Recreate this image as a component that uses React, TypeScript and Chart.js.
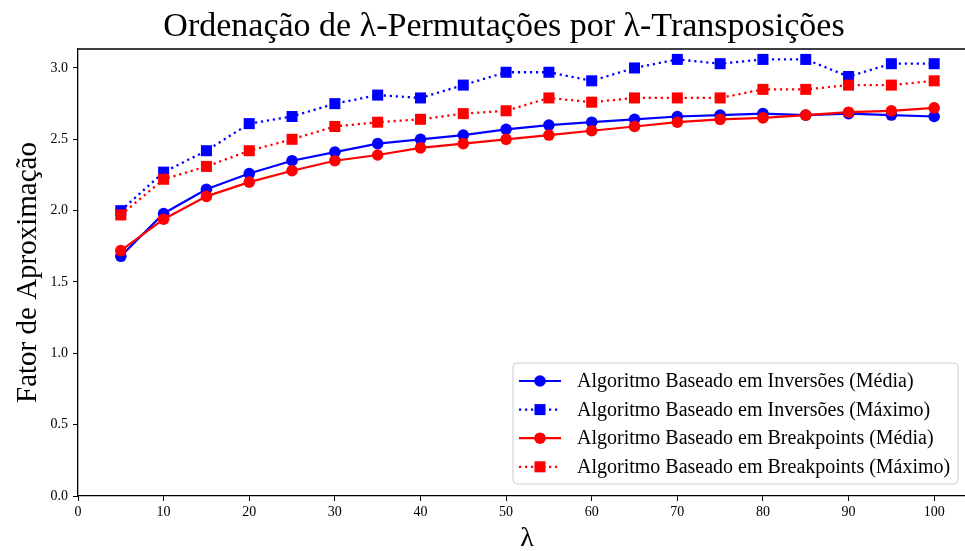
import React, { useEffect, useRef } from "react";
import { Chart, registerables } from "chart.js";

Chart.register(...registerables);

// λ values on the horizontal axis
const lambdas = [5, 10, 15, 20, 25, 30, 35, 40, 45, 50, 55, 60, 65, 70, 75, 80, 85, 90, 95, 100];

// approximation factors per algorithm
const inversoesMedia = [1.68, 1.98, 2.15, 2.26, 2.35, 2.41, 2.47, 2.5, 2.53, 2.57, 2.6, 2.62, 2.64, 2.66, 2.67, 2.68, 2.67, 2.68, 2.67, 2.66];
const inversoesMaximo = [2.0, 2.27, 2.42, 2.61, 2.66, 2.75, 2.81, 2.79, 2.88, 2.97, 2.97, 2.91, 3.0, 3.06, 3.03, 3.06, 3.06, 2.94, 3.03, 3.03];
const breakpointsMedia = [1.72, 1.94, 2.1, 2.2, 2.28, 2.35, 2.39, 2.44, 2.47, 2.5, 2.53, 2.56, 2.59, 2.62, 2.64, 2.65, 2.67, 2.69, 2.7, 2.72];
const breakpointsMaximo = [1.97, 2.22, 2.31, 2.42, 2.5, 2.59, 2.62, 2.64, 2.68, 2.7, 2.79, 2.76, 2.79, 2.79, 2.79, 2.85, 2.85, 2.88, 2.88, 2.91];

const seriesLabels = [
  "Algoritmo Baseado em Inversões (Média)",
  "Algoritmo Baseado em Inversões (Máximo)",
  "Algoritmo Baseado em Breakpoints (Média)",
  "Algoritmo Baseado em Breakpoints (Máximo)",
];

const xTicks = [0, 10, 20, 30, 40, 50, 60, 70, 80, 90, 100];
const yTicks = [0, 0.5, 1.0, 1.5, 2.0, 2.5, 3.0];

const titleText = "Ordenação de λ-Permutações por λ-Transposições";
const xTitle = "λ";
const yTitle = "Fator de Aproximação";

const FONT = "'Liberation Serif', 'DejaVu Serif', serif";
const BLUE = "#0000ff";
const RED = "#ff0000";
const DOT: number[] = [2.2, 3.8];

const toPoints = (ys: number[]) => lambdas.map((x, i) => ({ x, y: ys[i] }));

const decorations = {
  id: "decorations",
  afterDraw(chart: any) {
    const { ctx, chartArea } = chart;
    const { left, right, top, bottom } = chartArea;
    ctx.save();

    // top frame line
    ctx.strokeStyle = "#000";
    ctx.lineWidth = 1.3;
    ctx.beginPath();
    ctx.moveTo(left, top);
    ctx.lineTo(right, top);
    ctx.stroke();

    // title
    ctx.fillStyle = "#000";
    ctx.textAlign = "center";
    ctx.textBaseline = "alphabetic";
    ctx.font = `34px ${FONT}`;
    ctx.fillText(titleText, 504, 36);

    // axis titles
    ctx.font = `28px ${FONT}`;
    ctx.fillText(xTitle, 527, 546);
    ctx.save();
    ctx.translate(36, (top + bottom) / 2);
    ctx.rotate(-Math.PI / 2);
    ctx.font = `29px ${FONT}`;
    ctx.fillText(yTitle, 0, 0);
    ctx.restore();

    // legend
    const bx = 513, by = 363, bw = 445, bh = 121, r = 4;
    ctx.beginPath();
    ctx.moveTo(bx + r, by);
    ctx.arcTo(bx + bw, by, bx + bw, by + bh, r);
    ctx.arcTo(bx + bw, by + bh, bx, by + bh, r);
    ctx.arcTo(bx, by + bh, bx, by, r);
    ctx.arcTo(bx, by, bx + bw, by, r);
    ctx.closePath();
    ctx.fillStyle = "rgba(255,255,255,0.85)";
    ctx.fill();
    ctx.strokeStyle = "#cccccc";
    ctx.lineWidth = 1;
    ctx.stroke();

    chart.data.datasets.forEach((ds: any, i: number) => {
      const cy = 381 + i * 28.6;
      ctx.strokeStyle = ds.borderColor;
      ctx.lineWidth = ds.borderWidth;
      ctx.setLineDash(ds.borderDash || []);
      ctx.beginPath();
      ctx.moveTo(519, cy);
      ctx.lineTo(561, cy);
      ctx.stroke();
      ctx.setLineDash([]);
      ctx.fillStyle = ds.pointBackgroundColor;
      ctx.beginPath();
      if (ds.pointStyle === "rect") {
        const s = ds.pointRadius * Math.SQRT1_2;
        ctx.rect(540 - s, cy - s, 2 * s, 2 * s);
      } else {
        ctx.arc(540, cy, ds.pointRadius, 0, Math.PI * 2);
      }
      ctx.fill();
      ctx.fillStyle = "#000";
      ctx.textAlign = "left";
      ctx.textBaseline = "middle";
      ctx.font = `20px ${FONT}`;
      ctx.fillText(ds.label, 577, cy + 1);
    });

    ctx.restore();
  },
};

export default function App() {
  const canvasRef = useRef<HTMLCanvasElement | null>(null);

  useEffect(() => {
    if (!canvasRef.current) return;

    const line = (label: string, ys: number[], color: string, dotted: boolean, order: number) => ({
      label,
      data: toPoints(ys),
      borderColor: color,
      backgroundColor: color,
      pointBackgroundColor: color,
      pointBorderColor: color,
      pointBorderWidth: 0,
      borderWidth: dotted ? 2.3 : 2.2,
      borderDash: dotted ? DOT : [],
      pointStyle: dotted ? "rect" : "circle",
      pointRadius: dotted ? 7.8 : 5.8,
      tension: 0,
      order,
      clip: false,
    });

    const chart = new Chart(canvasRef.current, {
      type: "line",
      data: {
        datasets: [
          line(seriesLabels[0], inversoesMedia, BLUE, false, 4),
          line(seriesLabels[1], inversoesMaximo, BLUE, true, 3),
          line(seriesLabels[2], breakpointsMedia, RED, false, 2),
          line(seriesLabels[3], breakpointsMaximo, RED, true, 1),
        ] as any,
      },
      options: {
        animation: false,
        responsive: false,
        devicePixelRatio: 1,
        layout: { autoPadding: false, padding: { top: 49, right: 0, bottom: 0, left: 0 } },
        plugins: {
          legend: { display: false },
          title: { display: false },
          tooltip: { enabled: false },
        },
        scales: {
          x: {
            type: "linear",
            min: 0,
            max: 103.6,
            afterBuildTicks: (scale: any) => {
              scale.ticks = xTicks.map((v) => ({ value: v }));
            },
            afterFit: (scale: any) => {
              scale.height = 55;
            },
            grid: { drawOnChartArea: false, drawTicks: true, tickLength: 5, color: "#000", lineWidth: 1 },
            border: { display: true, color: "#000", width: 1.3 },
            ticks: {
              color: "#000",
              padding: 3,
              maxRotation: 0,
              font: { family: FONT, size: 14 },
              callback: (v: any) => String(v),
            },
          },
          y: {
            type: "linear",
            min: 0,
            max: 3.133,
            afterBuildTicks: (scale: any) => {
              scale.ticks = yTicks.map((v) => ({ value: v }));
            },
            afterFit: (scale: any) => {
              scale.width = 78;
            },
            grid: { drawOnChartArea: false, drawTicks: true, tickLength: 5, color: "#000", lineWidth: 1 },
            border: { display: true, color: "#000", width: 1.3 },
            ticks: {
              color: "#000",
              padding: 5,
              font: { family: FONT, size: 14 },
              callback: (v: any) => Number(v).toFixed(1),
            },
          },
        },
      },
      plugins: [decorations],
    });

    return () => chart.destroy();
  }, []);

  return (
    <div style={{ position: "fixed", left: 0, top: 0, width: 965, height: 551, background: "#fff" }}>
      <canvas ref={canvasRef} width={965} height={551} />
    </div>
  );
}
